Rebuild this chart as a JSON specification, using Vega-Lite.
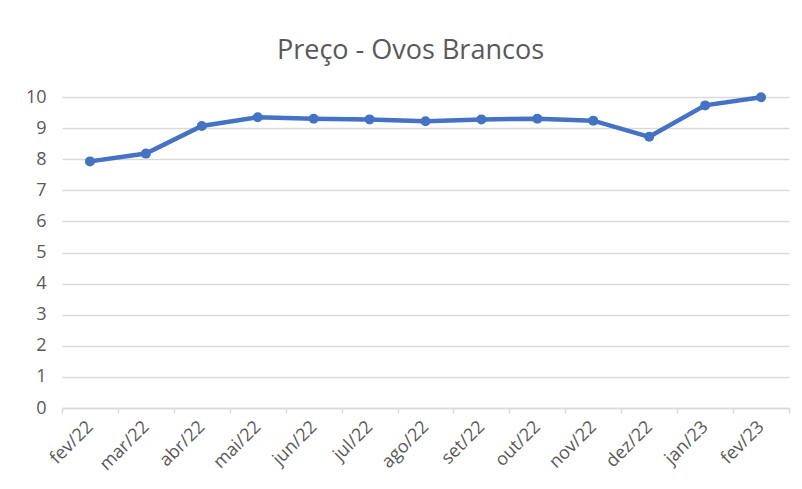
{
  "$schema": "https://vega.github.io/schema/vega-lite/v6.json",
  "width": 727,
  "height": 311,
  "autosize": {"type": "none"},
  "padding": {"left": 62, "top": 97, "right": 13, "bottom": 81},
  "background": "white",
  "title": {
    "text": "Preço - Ovos Brancos",
    "font": "Open Sans",
    "fontSize": 27,
    "fontWeight": "normal",
    "color": "#595959",
    "anchor": "middle",
    "offset": 23,
    "dx": -15
  },
  "data": {
    "values": [
      {"mes": "fev/22", "preco": 7.93},
      {"mes": "mar/22", "preco": 8.18},
      {"mes": "abr/22", "preco": 9.07},
      {"mes": "mai/22", "preco": 9.35},
      {"mes": "jun/22", "preco": 9.30},
      {"mes": "jul/22", "preco": 9.28},
      {"mes": "ago/22", "preco": 9.22},
      {"mes": "set/22", "preco": 9.28},
      {"mes": "out/22", "preco": 9.30},
      {"mes": "nov/22", "preco": 9.24},
      {"mes": "dez/22", "preco": 8.72},
      {"mes": "jan/23", "preco": 9.73},
      {"mes": "fev/23", "preco": 9.99}
    ]
  },
  "mark": {"type": "line", "color": "#4472C4", "strokeWidth": 4.5, "point": {"filled": true, "size": 100, "color": "#4472C4", "opacity": 1}},
  "encoding": {
    "x": {
      "field": "mes",
      "type": "ordinal",
      "sort": null,
      "bandPosition": 0.5,
      "scale": {"type": "band", "paddingInner": 0, "paddingOuter": 0},
      "axis": {
        "title": null,
        "labelAngle": -45,
        "labelAlign": "right",
        "labelBaseline": "middle",
        "labelFont": "Open Sans",
        "labelFontSize": 18,
        "labelColor": "#595959",
        "labelPadding": 11,
        "domainColor": "#d9d9d9",
        "domainWidth": 1.5,
        "tickColor": "#d9d9d9",
        "tickWidth": 1.5,
        "tickSize": 5,
        "tickBand": "extent",
        "grid": false
      }
    },
    "y": {
      "field": "preco",
      "type": "quantitative",
      "scale": {"domain": [0, 10], "nice": false},
      "axis": {
        "title": null,
        "values": [0, 1, 2, 3, 4, 5, 6, 7, 8, 9, 10],
        "labelOverlap": false,
        "labelFont": "Open Sans",
        "labelFontSize": 18,
        "labelColor": "#595959",
        "labelPadding": 16,
        "domain": false,
        "ticks": false,
        "gridColor": "#d9d9d9",
        "gridWidth": 1.5
      }
    }
  },
  "config": {"view": {"stroke": null}}
}
